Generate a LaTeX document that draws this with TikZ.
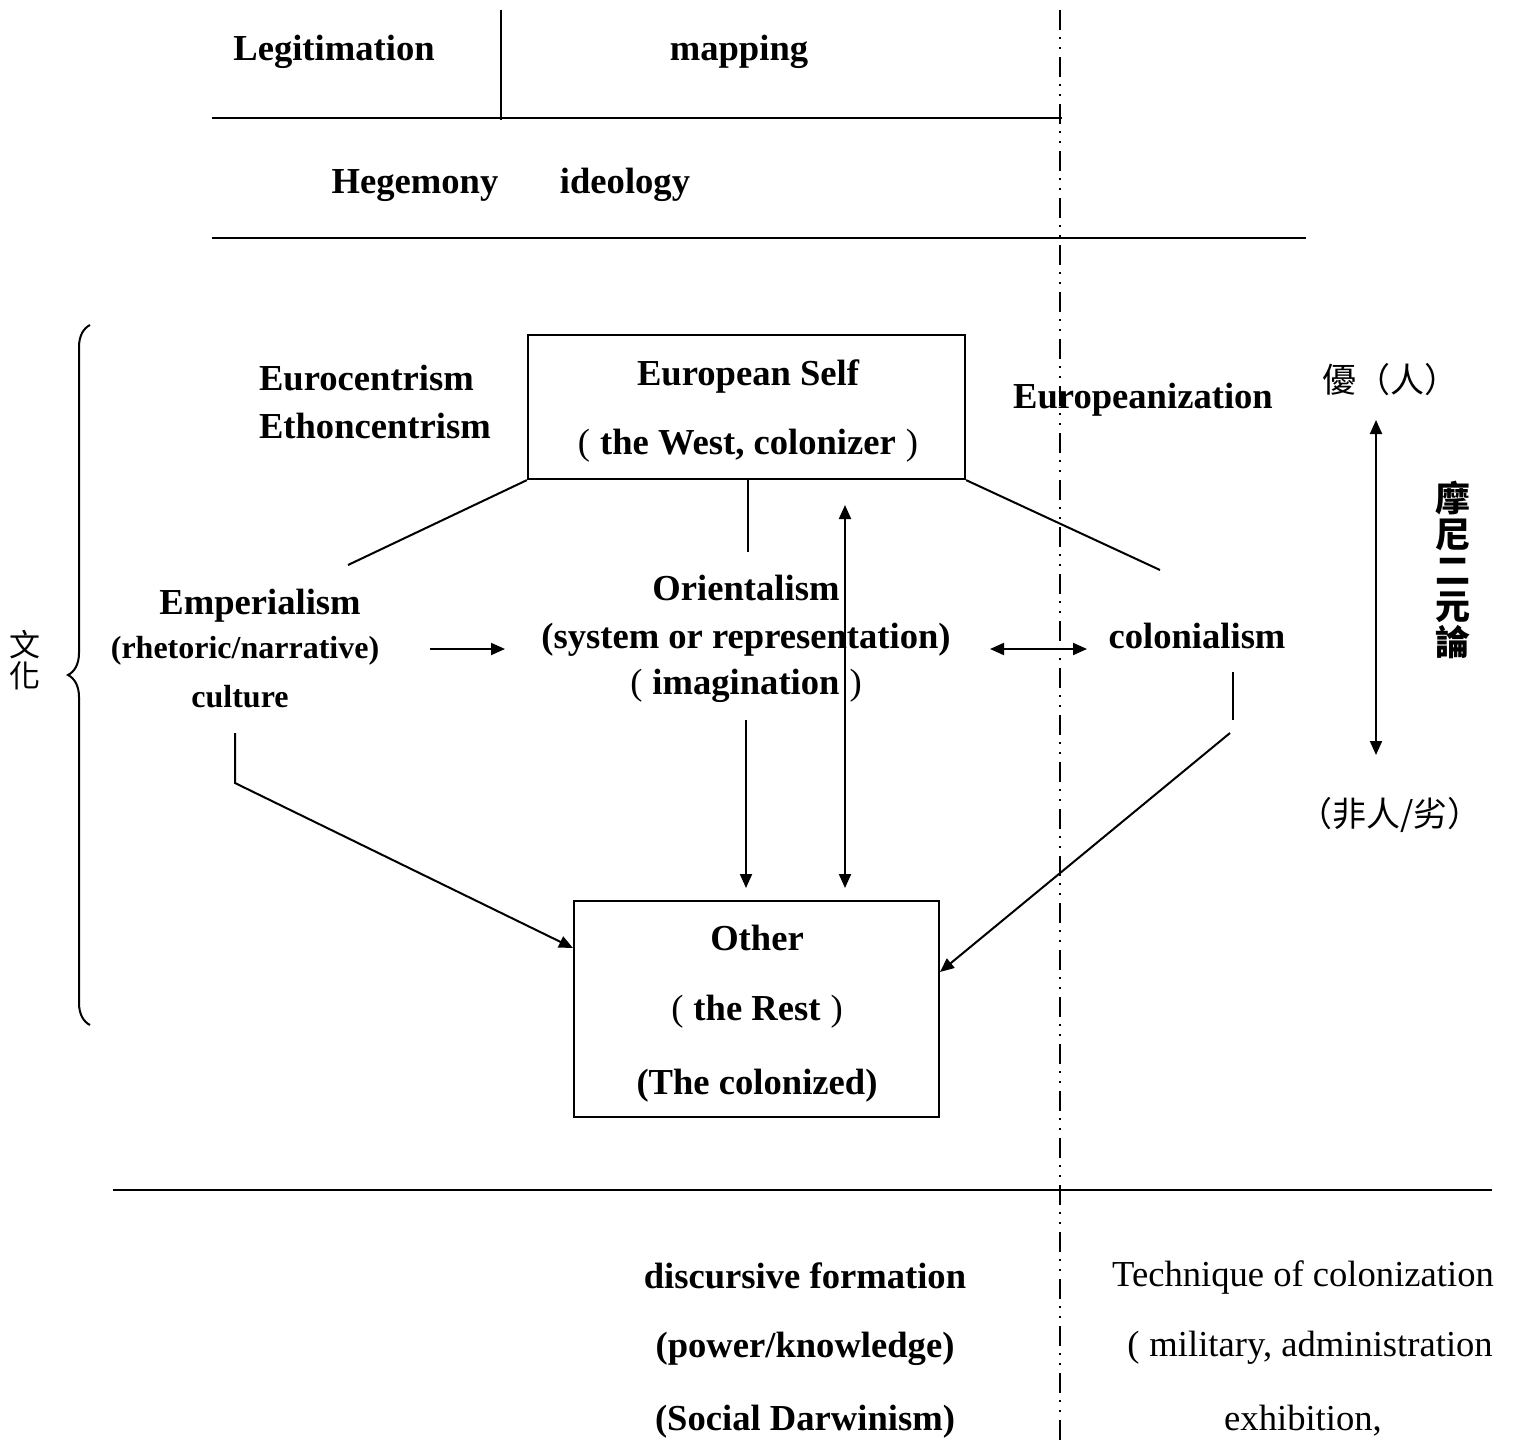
\documentclass[tikz,border=0pt]{standalone}
\usepackage{fontspec}
\setmainfont{Liberation Serif}
\newfontfamily\cjk{Noto Sans CJK TC}
\usetikzlibrary{arrows.meta, positioning, decorations.pathreplacing}
\newcommand{\lpar}{{\mdseries(}\hspace{5pt}}
\newcommand{\rpar}{\hspace{5pt}{\mdseries)}}

\begin{document}
\begin{tikzpicture}[
    x=0.5pt, y=-0.5pt,
    >={Triangle[length=7pt,width=6pt]},
    line width=1pt,
    lbl/.style={font=\bfseries\fontsize{18.3}{22}\selectfont, inner sep=0pt},
    small/.style={font=\bfseries\fontsize{16}{20}\selectfont, inner sep=0pt},
    plain/.style={font=\fontsize{18.3}{22}\selectfont, inner sep=0pt},
    zh/.style={font=\cjk\fontsize{17}{18}\selectfont, inner sep=0pt, align=center},
    box/.style={draw, line width=1.1pt, inner sep=0pt},
    rule/.style={line width=1.1pt},
    dashdot/.style={line width=1.4pt, dash pattern=on 10pt off 3.5pt on 1pt off 4pt on 1pt off 4pt}
  ]
  \useasboundingbox (0,0) rectangle (1521,1440);

  % --- TABELA SUPERIOR ---
  \draw[rule] (501,10) -- (501,120);
  \draw[rule] (212,118) -- (1062,118);
  \draw[rule] (212,238) -- (1306,238);
  \draw[rule] (113,1190) -- (1492,1190);
  \draw[dashdot] (1060,10) -- (1060,1440);

  \node[lbl, anchor=base] (legit) at (334,60) {Legitimation};
  \node[lbl, anchor=base] (mapp) at (739,60) {mapping};
  \node[lbl, anchor=base] (hege) at (415,193) {Hegemony};
  \node[lbl, anchor=base] (ideo) at (625,193) {ideology};

  % --- CAIXAS ---
  \node[box, minimum width=218.5pt, minimum height=72pt] (eself) at (746.5,407) {};
  \node[lbl, anchor=base] (eselfa) at (748,385) {European Self};
  \node[lbl, anchor=base] (eselfb) at (748,454) {\lpar the West, colonizer\rpar};

  \node[box, minimum width=182.5pt, minimum height=108pt] (other) at (756.5,1009) {};
  \node[lbl, anchor=base] (othera) at (757,950) {Other};
  \node[lbl, anchor=base] (otherb) at (757,1020) {\lpar the Rest\rpar};
  \node[lbl, anchor=base] (otherc) at (757,1094) {(The colonized)};

  % --- TEXTOS ---
  \node[lbl, anchor=base west] (euro) at (258,390) {Eurocentrism};
  \node[lbl, anchor=base west] (etho) at (258,438) {Ethoncentrism};
  \node[lbl, anchor=base] (europ) at (1143,408) {Europeanization};

  \node[lbl, anchor=base] (emp) at (260,614) {Emperialism};
  \node[small, anchor=base] (rhet) at (245,658) {(rhetoric/narrative)};
  \node[small, anchor=base] (cult) at (240,707) {culture};

  \node[lbl, anchor=base] (ori) at (746,600) {Orientalism};
  \node[lbl, anchor=base] (sys) at (746,648) {(system or representation)};
  \node[lbl, anchor=base] (imag) at (746,694) {\lpar imagination\rpar};

  \node[lbl, anchor=base] (col) at (1197,648) {colonialism};

  \node[lbl, anchor=base] (disc) at (805,1288) {discursive formation};
  \node[lbl, anchor=base] (powk) at (805,1357) {(power/knowledge)};
  \node[lbl, anchor=base] (sdar) at (805,1430) {(Social Darwinism)};

  \node[plain, anchor=base] (tech) at (1303,1286) {Technique of colonization};
  \node[plain, anchor=base] (mili) at (1310,1356) {\lpar military, administration};
  \node[plain, anchor=base] (exhi) at (1303,1430) {exhibition,};

  \node[zh] (you) at (1390,380) {優（人）};
  \node[zh] (fei) at (1390,815) {（非人/劣）};
  \node[zh, font=\cjk\bfseries\fontsize{17.5}{18}\selectfont] (moni) at (1453,570) {摩\\尼\\二\\元\\論};
  \node[zh, font=\cjk\fontsize{15.5}{15.5}\selectfont] (wenhua) at (25,660) {文\\化};

  % --- PONTOS LIVRES ---
  \coordinate (empT) at (348,565);
  \coordinate (oriT) at (748,552);
  \coordinate (colT) at (1160,570);
  \coordinate (empB) at (235,733);
  \coordinate (empK) at (235,783);
  \coordinate (empE) at (573,948);
  \coordinate (arA) at (430,649);
  \coordinate (arB) at (505,649);
  \coordinate (biA) at (990,649);
  \coordinate (biB) at (1087,649);
  \coordinate (oriB) at (746,720);
  \coordinate (oriE) at (746,888);
  \coordinate (vtA) at (845,505);
  \coordinate (vtB) at (845,888);
  \coordinate (colA) at (1233,672);
  \coordinate (colB) at (1233,720);
  \coordinate (colC) at (1230,733);
  \coordinate (colE) at (940,972);
  \coordinate (upA) at (1376,420);
  \coordinate (upB) at (1376,755);

  % --- LIGACOES ---
  \draw (eself.south west) -- (empT);
  \draw (eself.south) ++(1.5,0) -- (oriT);
  \draw (eself.south east) -- (colT);
  \draw[->] (arA) -- (arB);
  \draw[<->] (biA) -- (biB);
  \draw[->] (oriB) -- (oriE);
  \draw[<->] (vtA) -- (vtB);
  \draw[->] (empB) -- (empK) -- (empE);
  \draw (colA) -- (colB);
  \draw[->] (colC) -- (colE);
  \draw[<->] (upA) -- (upB);

  % chave
  \draw[decorate, decoration={brace, amplitude=11pt}] (90,1025) -- (90,325);

\end{tikzpicture}
\end{document}
